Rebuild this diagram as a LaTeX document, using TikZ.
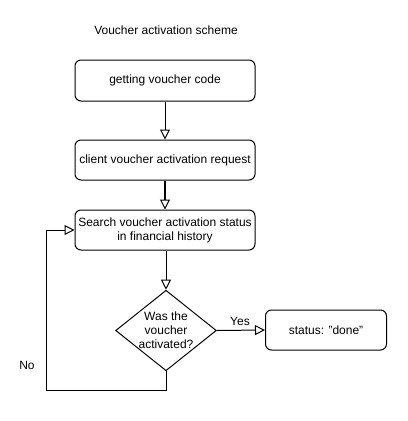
\documentclass[tikz,border=0pt]{standalone}
\usepackage{fontspec}
\setmainfont{Liberation Sans}
\usetikzlibrary{arrows.meta,shapes.geometric}
\begin{document}
\begin{tikzpicture}[x=0.75pt,y=-0.75pt,
  font=\fontsize{9}{10.5}\selectfont,
  box/.style={draw, rounded corners=4.5pt, line width=0.75pt, align=center, inner sep=0pt},
  dec/.style={draw, diamond, aspect=1.25, line width=0.75pt, align=center, inner sep=0pt, minimum width=75pt, minimum height=59.5pt},
  flow/.style={line width=0.75pt, -{Triangle[open,length=7.5pt,width=7.5pt,line width=0.75pt]}},
  lbl/.style={inner sep=0pt}]
\useasboundingbox (0,0) rectangle (407,421);
\node[lbl] (title) at (166,30) {Voucher activation scheme};
\node[box, minimum width=135pt, minimum height=30.75pt] (b1) at (165,80.5) {getting voucher code};
\node[box, minimum width=135pt, minimum height=30pt] (b2) at (165,160) {client voucher activation request};
\node[box, minimum width=135pt, minimum height=30pt] (b3) at (165,230) {Search voucher activation status\\in financial history};
\node[dec] (d) at (166,330.5) {Was the\\voucher\\activated?};
\node[box, minimum width=90.75pt, minimum height=30pt] (done) at (326,330) {status: "done"};
\node[lbl] (yes) at (240,321) {Yes};
\node[lbl] (no) at (27,365) {No};
\coordinate (c1) at (166,390);
\coordinate (c2) at (46.7,390);
\coordinate (c3) at (46.7,230);
\draw[flow] (b1.south) -- (b2.north);
\draw[flow, line width=1.1pt] (b2.south) -- (b3.north);
\draw[flow] (b3.south -| d.north) -- (d.north);
\draw[flow] (d.east) -- (done.west);
\draw[flow] (d.south) -- (c1) -- (c2) -- (c3) -- (b3.west);
\end{tikzpicture}
\end{document}
